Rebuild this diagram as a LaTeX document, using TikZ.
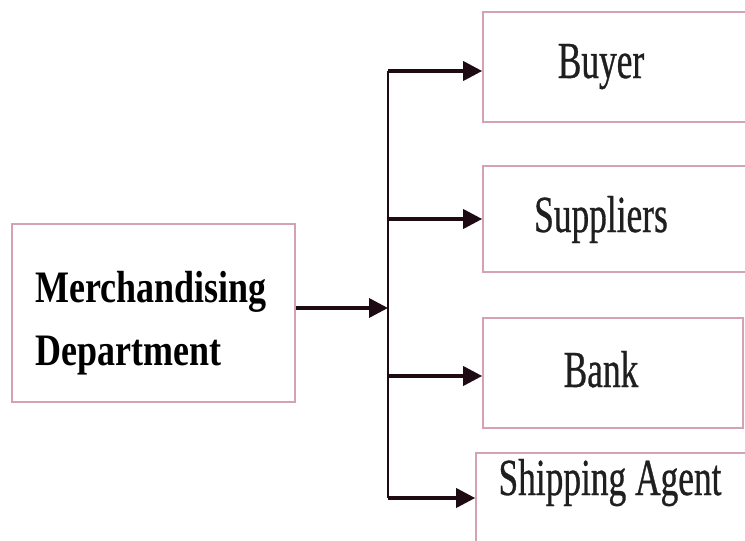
\documentclass[tikz,border=0pt]{standalone}
\usepackage{fontspec}
\setmainfont{Liberation Serif}
\newfontfamily\condfont[FakeStretch=0.68,FakeBold=0.6]{Liberation Serif}
\newfontfamily\condbold[FakeStretch=0.8]{Liberation Serif Bold}
\usetikzlibrary{arrows.meta}
\definecolor{boxpink}{HTML}{D4A2B4}
\definecolor{arrowdark}{HTML}{1E0A12}
\tikzset{
  boxnode/.style={draw=boxpink, line width=1.6pt, rectangle, inner sep=0pt},
  lbl/.style={inner sep=0pt, anchor=base, font=\condfont\fontsize{52}{52}\selectfont, text=black!88},
  mlbl/.style={inner sep=0pt, anchor=base west, font=\condbold\fontsize{45}{45}\selectfont, text=black},
  conn/.style={draw=arrowdark, line width=3.6pt, -{Triangle[length=19pt,width=19pt]}},
  spine/.style={draw=arrowdark, line width=2.2pt}
}
\begin{document}
\begin{tikzpicture}[x=1pt,y=-1pt]
\useasboundingbox (0,0) rectangle (745,541);
\clip (0,0) rectangle (745,541);
% boxes
\node[boxnode, minimum width=283pt, minimum height=178pt] (md) at (153.5,313) {};
\node[boxnode, minimum width=277pt, minimum height=110pt] (buyer) at (621.5,67) {};
\node[boxnode, minimum width=277pt, minimum height=106pt] (supp) at (621.5,219) {};
\node[boxnode, minimum width=260pt, minimum height=110pt] (bank) at (613,373) {};
\node[boxnode, minimum width=284pt, minimum height=110pt] (ship) at (618,508) {};
% labels
\node[mlbl] (t1) at (35,302) {Merchandising};
\node[mlbl] (t2) at (35,365) {Department};
\node[lbl] (tb) at (601,78) {Buyer};
\node[lbl] (ts) at (601,232) {Suppliers};
\node[lbl] (tk) at (601,387) {Bank};
\node[lbl] (tsa) at (610,495) {Shipping Agent};
% connectors
\coordinate (top) at (388,71);
\coordinate (mid) at (388,308);
\coordinate (bot) at (388,498);
\coordinate (sb) at (388,219);
\coordinate (bk) at (388,376);
\draw[spine] (top) -- (bot);
\draw[conn] (md.east |- mid) -- (mid);
\draw[conn] (top) -- (buyer.west |- top);
\draw[conn] (sb) -- (supp.west |- sb);
\draw[conn] (bk) -- (bank.west |- bk);
\draw[conn] (bot) -- (ship.west |- bot);
\end{tikzpicture}
\end{document}
